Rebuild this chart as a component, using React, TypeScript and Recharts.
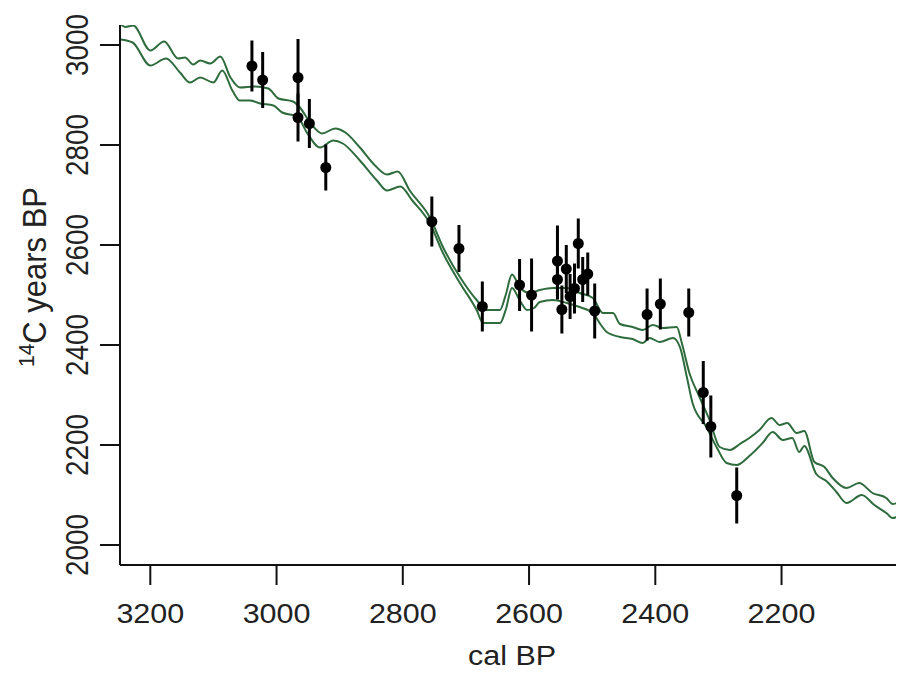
import React from 'react';
import { ComposedChart, Line, Scatter, ErrorBar, XAxis, YAxis, Label } from 'recharts';

const upperCal = [3247, 3240, 3227, 3200, 3178, 3156, 3145, 3132, 3121, 3105, 3089, 3073, 3058, 3034, 3013, 2997, 2974, 2963, 2947, 2928, 2907, 2891, 2868, 2844, 2825, 2808, 2789, 2757, 2736, 2709, 2683, 2667, 2646, 2637, 2627, 2615, 2599, 2583, 2562, 2540, 2520, 2499, 2483, 2467, 2456, 2436, 2420, 2404, 2388, 2366, 2358, 2346, 2330, 2314, 2298, 2282, 2266, 2251, 2235, 2216, 2203, 2191, 2176, 2164, 2148, 2132, 2119, 2097, 2077, 2056, 2034, 2024, 2007];
const upperC14 = [3042, 3036, 3039, 2989, 3007, 2973, 2975, 2961, 2969, 2963, 2977, 2935, 2915, 2917, 2913, 2893, 2887, 2875, 2845, 2823, 2833, 2825, 2795, 2759, 2741, 2747, 2709, 2655, 2595, 2535, 2490, 2470, 2470, 2500, 2541, 2516, 2504, 2510, 2514, 2514, 2504, 2494, 2464, 2464, 2442, 2436, 2430, 2440, 2434, 2436, 2404, 2344, 2296, 2250, 2196, 2190, 2202, 2214, 2230, 2254, 2240, 2244, 2224, 2228, 2166, 2156, 2134, 2114, 2124, 2104, 2094, 2082, 2092];

const lowerCal = [3247, 3228, 3200, 3175, 3153, 3137, 3121, 3100, 3086, 3070, 3058, 3042, 3026, 3005, 2991, 2967, 2952, 2931, 2910, 2895, 2868, 2841, 2825, 2804, 2785, 2757, 2736, 2709, 2683, 2673, 2646, 2637, 2627, 2615, 2603, 2592, 2583, 2562, 2540, 2520, 2499, 2486, 2477, 2456, 2436, 2420, 2409, 2393, 2372, 2361, 2350, 2341, 2319, 2303, 2287, 2271, 2251, 2230, 2214, 2198, 2183, 2172, 2164, 2145, 2129, 2113, 2097, 2073, 2053, 2034, 2024, 2007];
const lowerC14 = [3011, 3005, 2959, 2973, 2945, 2925, 2935, 2925, 2949, 2909, 2889, 2889, 2883, 2879, 2865, 2857, 2825, 2795, 2809, 2803, 2769, 2729, 2709, 2717, 2689, 2643, 2583, 2523, 2470, 2444, 2444, 2470, 2514, 2490, 2470, 2474, 2486, 2490, 2484, 2476, 2464, 2440, 2426, 2416, 2412, 2404, 2414, 2406, 2414, 2396, 2336, 2284, 2236, 2196, 2164, 2160, 2178, 2204, 2226, 2210, 2214, 2186, 2198, 2142, 2128, 2106, 2084, 2100, 2080, 2064, 2054, 2066];

const sampleCal = [3039, 3022, 2966, 2966, 2948, 2922, 2754, 2711, 2674, 2615, 2596, 2555, 2555, 2548, 2541, 2535, 2528, 2522, 2515, 2507, 2496, 2413, 2392, 2347, 2324, 2312, 2271];
const sampleC14 = [2958, 2930, 2935, 2855, 2843, 2755, 2647, 2593, 2477, 2520, 2500, 2568, 2531, 2471, 2552, 2497, 2513, 2603, 2531, 2542, 2468, 2461, 2482, 2465, 2305, 2237, 2099];
const sampleErr = [51, 56, 77, 48, 49, 46, 50, 47, 50, 52, 73, 71, 40, 48, 48, 45, 50, 50, 45, 43, 55, 52, 51, 48, 63, 62, 56];

const xTicks = [3200, 3000, 2800, 2600, 2400, 2200];
const yTicks = [2000, 2200, 2400, 2600, 2800, 3000];

const upperData = upperCal.map((c, i) => ({ cal: c, c14: upperC14[i] }));
const lowerData = lowerCal.map((c, i) => ({ cal: c, c14: lowerC14[i] }));
const sampleData = sampleCal.map((c, i) => ({ cal: c, c14: sampleC14[i], err: sampleErr[i] }));

const FONT = '"Liberation Sans", Arial, Helvetica, sans-serif';
const TEXT = '#222';
const CURVE = '#2e6b3d';
const SX = 1.09;

const XTick = (props: any) => {
  const { x, y, payload } = props;
  return (
    <text transform={`translate(${x},${y + 38}) scale(${SX},1)`} textAnchor="middle" fontFamily={FONT} fontSize={28} fill={TEXT}>
      {payload.value}
    </text>
  );
};

const YTick = (props: any) => {
  const { x, y, payload } = props;
  return (
    <text transform={`translate(${x - 12.5},${y}) scale(${SX},1) rotate(-90)`} textAnchor="middle" fontFamily={FONT} fontSize={28} fill={TEXT}>
      {payload.value}
    </text>
  );
};

const XTitle = (props: any) => {
  const vb = props.viewBox;
  return (
    <text transform={`translate(${vb.x + vb.width / 2},${vb.y + 100}) scale(${SX},1)`} textAnchor="middle" fontFamily={FONT} fontSize={28} fill={TEXT}>
      cal BP
    </text>
  );
};

const YTitle = (props: any) => {
  const vb = props.viewBox;
  return (
    <text transform={`translate(38,${vb.y + vb.height / 2 - 18}) scale(${SX},1) rotate(-90)`} textAnchor="middle" fontFamily={FONT} fontSize={31} fill={TEXT}>
      <tspan fontSize={21} dy={-11}>14</tspan>
      <tspan dy={11}>C years BP</tspan>
    </text>
  );
};

const Dot = (props: any) => <circle cx={props.cx} cy={props.cy} r={5.5} fill="#000" />;

export default function App() {
  return (
    <ComposedChart width={896} height={665} margin={{ top: 17, right: 0, bottom: 0, left: 0 }} style={{ background: '#fff' }}>
      <XAxis
        type="number"
        dataKey="cal"
        domain={[2006, 3248]}
        reversed
        allowDataOverflow
        ticks={xTicks}
        interval={0}
        tickSize={20}
        tickMargin={0}
        height={108}
        axisLine={{ stroke: '#111', strokeWidth: 2 }}
        tickLine={{ stroke: '#111', strokeWidth: 2 }}
        tick={<XTick />}
      >
        <Label content={<XTitle />} />
      </XAxis>
      <YAxis
        type="number"
        dataKey="c14"
        domain={[1960, 3040]}
        allowDataOverflow
        ticks={yTicks}
        interval={0}
        tickSize={20}
        tickMargin={0}
        width={112}
        axisLine={{ stroke: '#111', strokeWidth: 2 }}
        tickLine={{ stroke: '#111', strokeWidth: 2 }}
        tick={<YTick />}
      >
        <Label content={<YTitle />} />
      </YAxis>
      <Line data={upperData} dataKey="c14" type="monotone" stroke={CURVE} strokeWidth={2} dot={false} isAnimationActive={false} />
      <Line data={lowerData} dataKey="c14" type="monotone" stroke={CURVE} strokeWidth={2} dot={false} isAnimationActive={false} />
      <Scatter data={sampleData} dataKey="c14" fill="#000" shape={<Dot />} isAnimationActive={false}>
        <ErrorBar dataKey="err" direction="y" width={0} stroke="#000" strokeWidth={3} />
      </Scatter>
    </ComposedChart>
  );
}
